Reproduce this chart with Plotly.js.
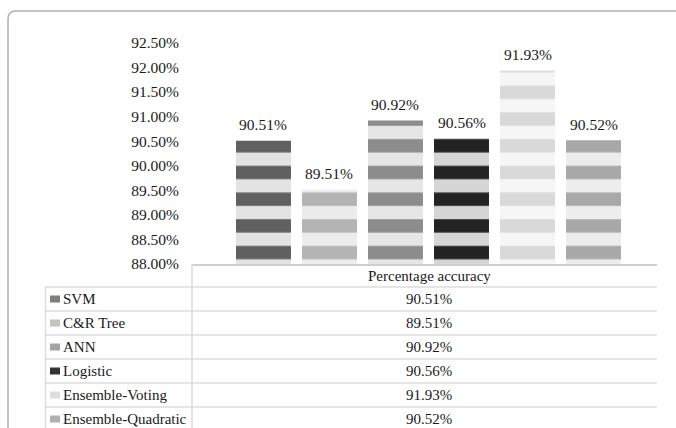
<!DOCTYPE html>
<html>
<head>
<meta charset="utf-8">
<script src="https://cdn.plot.ly/plotly-3.0.1.min.js"></script>
<style>html,body{margin:0;padding:0;background:#fff;}#chart{width:676px;height:428px;}</style>
</head>
<body>
<div id="chart"></div>
<script>
// ---- data ----
const models = ['SVM', 'C&R Tree', 'ANN', 'Logistic', 'Ensemble-Voting', 'Ensemble-Quadratic'];
const accuracy = [90.51, 89.51, 90.92, 90.56, 91.93, 90.52];
const yTicks = [88.0, 88.5, 89.0, 89.5, 90.0, 90.5, 91.0, 91.5, 92.0, 92.5];
const columnHeader = 'Percentage accuracy';

// ---- styles ----
const darkBands  = ['#606060', '#b4b4b4', '#8c8c8c', '#232323', '#d9d9d9', '#a8a8a8'];
const lightBands = ['#e3e3e3', '#ececec', '#e6e6e6', '#d6d6d6', '#f6f6f6', '#ededed'];
const keyColors  = ['#7f7f7f', '#c4c4c4', '#a3a3a3', '#333333', '#dedede', '#b0b0b0'];
const FONT = '"Liberation Serif", "Times New Roman", Times, "DejaVu Serif", serif';
const TXT = '#1a1a1a';

const W = 676, H = 428;
const L = 192, R = 657, T = 39, B = 264;
const X = px => (px - L) / (R - L);
const Y = py => (B - py) / (B - T);

const fmt = v => v.toFixed(2) + '%';

const traces = models.map((m, i) => ({
  type: 'bar',
  name: m,
  x: [m],
  y: [accuracy[i]],
  marker: {
    color: darkBands[i],
    line: {width: 0},
    pattern: {shape: '-', size: 26.7, solidity: 0.5, fgcolor: lightBands[i], bgcolor: darkBands[i], fgopacity: 1, fillmode: 'replace'}
  },
  hoverinfo: 'none',
  showlegend: false
}));

const shapes = [];
const annotations = [];

// value labels above bars
models.forEach((m, i) => {
  annotations.push({
    x: m, y: accuracy[i], xref: 'x', yref: 'y',
    text: fmt(accuracy[i]), showarrow: false,
    yshift: 16, yanchor: 'middle', xanchor: 'center',
    font: {family: FONT, size: 15.5, color: TXT}
  });
});

// outer border (rounded corner)
shapes.push({
  type: 'path', xref: 'paper', yref: 'paper',
  path: `M ${X(8)},${Y(440)} L ${X(8)},${Y(19)} Q ${X(8)},${Y(11)} ${X(16)},${Y(11)} L ${X(700)},${Y(11)}`,
  line: {color: '#b0b0b0', width: 1.5}
});

// data table lines
const rowTop = 287, rowH = 24;
shapes.push({type: 'line', xref: 'paper', yref: 'paper', x0: X(192), x1: X(192), y0: Y(264), y1: Y(440), line: {color: '#dcdcdc', width: 1.5}});
shapes.push({type: 'line', xref: 'paper', yref: 'paper', x0: X(45.5), x1: X(45.5), y0: Y(rowTop), y1: Y(440), line: {color: '#dcdcdc', width: 1.5}});
for (let k = 0; k < models.length; k++) {
  const yy = rowTop + k * rowH;
  shapes.push({type: 'line', xref: 'paper', yref: 'paper', x0: X(45), x1: X(657), y0: Y(yy), y1: Y(yy), line: {color: '#dcdcdc', width: 1.5}});
}
// header
annotations.push({
  xref: 'paper', yref: 'paper', x: X(429), y: Y(276), text: columnHeader,
  showarrow: false, xanchor: 'center', yanchor: 'middle',
  font: {family: FONT, size: 15, color: TXT}
});
// rows
models.forEach((m, i) => {
  const cy = rowTop + i * rowH + 12;
  shapes.push({type: 'rect', xref: 'paper', yref: 'paper', x0: X(50), x1: X(60), y0: Y(cy - 3.5), y1: Y(cy + 3.5), fillcolor: keyColors[i], line: {width: 0}});
  annotations.push({
    xref: 'paper', yref: 'paper', x: X(61), y: Y(cy), text: m.replace('&', '&amp;'),
    showarrow: false, xanchor: 'left', yanchor: 'middle',
    font: {family: FONT, size: 15, color: TXT}
  });
  annotations.push({
    xref: 'paper', yref: 'paper', x: X(429), y: Y(cy), text: fmt(accuracy[i]),
    showarrow: false, xanchor: 'center', yanchor: 'middle',
    font: {family: FONT, size: 15, color: TXT}
  });
});

const layout = {
  width: W, height: H,
  margin: {l: L, r: W - R, t: T, b: H - B, pad: 0},
  paper_bgcolor: '#ffffff', plot_bgcolor: '#ffffff',
  barmode: 'overlay',
  bargap: 0.167,
  font: {family: FONT, color: TXT},
  xaxis: {
    type: 'category', categoryorder: 'array', categoryarray: models,
    range: [-1.083, 5.962],
    showticklabels: false, ticks: '', showgrid: false, zeroline: false,
    showline: true, linecolor: '#cfcfcf', linewidth: 2, layer: 'below traces'
  },
  yaxis: {
    range: [88, 88 + (B - T) / 49.15],
    tickvals: yTicks, ticktext: yTicks.map(fmt),
    showgrid: false, zeroline: false, showline: false, ticks: '',
    ticklabelstandoff: 12,
    tickfont: {family: FONT, size: 15.5, color: TXT}
  },
  shapes: shapes,
  annotations: annotations,
  showlegend: false
};

Plotly.newPlot('chart', traces, layout, {staticPlot: true, displayModeBar: false});
</script>
</body>
</html>
